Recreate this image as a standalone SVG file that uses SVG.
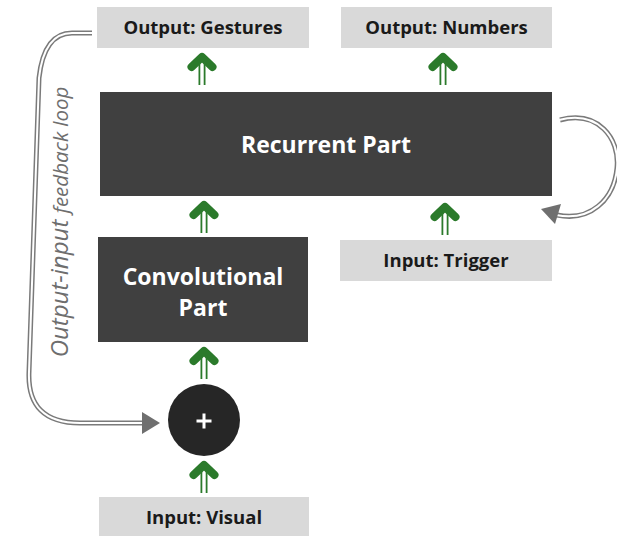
<svg xmlns="http://www.w3.org/2000/svg" width="617" height="536" viewBox="0 0 617 536">
  <style>
    .io { fill: #d9d9d9; }
    .block { fill: #404040; }
    .io-label { font-family: "Open Sans", "Noto Sans", sans-serif; font-weight: 700; font-size: 18.5px; fill: #1a1a1a; text-anchor: middle; }
    .block-label { font-family: "Open Sans", "Noto Sans", sans-serif; font-weight: 700; font-size: 23px; fill: #ffffff; text-anchor: middle; }
    .loop-outer { fill: none; stroke: #7a7a7a; stroke-width: 5; }
    .loop-inner { fill: none; stroke: #ffffff; stroke-width: 2; }
    .loop-head { fill: #6f6f6f; }
    .note { font-family: "Open Sans", "Noto Sans", sans-serif; font-style: italic; fill: #6e6e6e; text-anchor: middle; }
  </style>
  <defs>
    <!-- green flow arrow: chevron head with a hollow double shaft, origin at the tip -->
    <g id="flow">
      <line x1="-2.6" y1="8" x2="-2.6" y2="32" stroke="#2b7a2b" stroke-width="1.8"/>
      <line x1="2.6" y1="8" x2="2.6" y2="32" stroke="#2b7a2b" stroke-width="1.8"/>
      <polyline points="-10.5,14 0,4 10.5,14" fill="none" stroke="#2b7a2b" stroke-width="8" stroke-linecap="round" stroke-linejoin="round"/>
    </g>
  </defs>

  <rect width="617" height="536" fill="#ffffff"/>

  <g id="connectors">
    <use href="#flow" x="202" y="53"/>
    <use href="#flow" x="443" y="53"/>
    <use href="#flow" x="204" y="201"/>
    <use href="#flow" x="445" y="203"/>
    <use href="#flow" x="204" y="347"/>
    <use href="#flow" x="204" y="461"/>

    <!-- output-input feedback loop -->
    <g id="feedback-loop">
      <path class="loop-outer" d="M 92 33 L 72 33 Q 44 33 39 78 L 29 372 Q 27 423 80 423 L 146 423"/>
      <path class="loop-inner" d="M 93 33 L 72 33 Q 44 33 39 78 L 29 372 Q 27 423 80 423 L 147 423"/>
      <polygon class="loop-head" points="142,412 160,423 142,434"/>
      <text class="note" transform="translate(68,222) rotate(-90)"><tspan font-size="24">Output-input </tspan><tspan font-size="20.5">feedback loop</tspan></text>
    </g>

    <!-- recurrent self loop -->
    <g id="recurrent-loop">
      <path class="loop-outer" d="M 560 120 C 598 110 620 138 617 168 C 614 200 590 222 557 215"/>
      <path class="loop-inner" d="M 559 120 C 598 110 620 138 617 168 C 614 200 590 222 556 215"/>
      <polygon class="loop-head" points="541,209 561,204 555,224"/>
    </g>
  </g>

  <g id="output-gestures">
    <rect class="io" x="97" y="7" width="212" height="41"/>
    <text class="io-label" x="203" y="34">Output: Gestures</text>
  </g>

  <g id="output-numbers">
    <rect class="io" x="341" y="7" width="211" height="41"/>
    <text class="io-label" x="446.5" y="34">Output: Numbers</text>
  </g>

  <g id="recurrent-part">
    <rect class="block" x="100" y="92" width="452" height="104"/>
    <text class="block-label" x="326" y="153">Recurrent Part</text>
  </g>

  <g id="input-trigger">
    <rect class="io" x="340" y="240" width="212" height="41"/>
    <text class="io-label" x="446" y="267">Input: Trigger</text>
  </g>

  <g id="convolutional-part">
    <rect class="block" x="98" y="237" width="210" height="105"/>
    <text class="block-label" x="203" y="285">Convolutional</text>
    <text class="block-label" x="203" y="316">Part</text>
  </g>

  <g id="sum">
    <circle cx="204" cy="420" r="36" fill="#262626"/>
    <path d="M 196.5 421 H 211.5 M 204 413.5 V 428.5" stroke="#ffffff" stroke-width="3"/>
  </g>

  <g id="input-visual">
    <rect class="io" x="99" y="497" width="210" height="41"/>
    <text class="io-label" x="204" y="524">Input: Visual</text>
  </g>
</svg>
